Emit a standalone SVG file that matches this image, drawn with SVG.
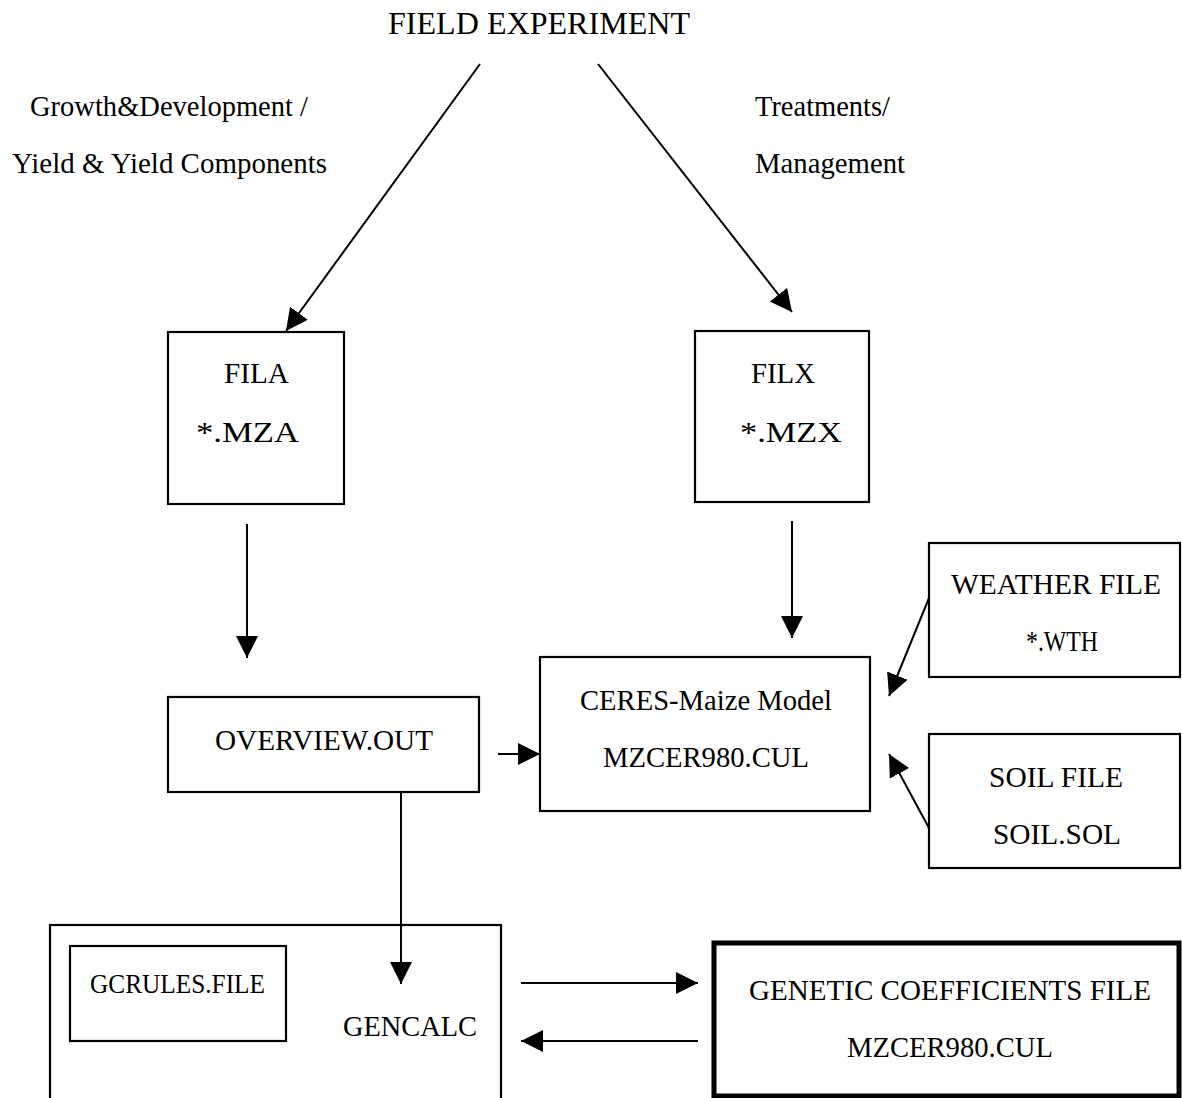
<svg xmlns="http://www.w3.org/2000/svg" width="1182" height="1098" viewBox="0 0 1182 1098">
<style>
.t{font-family:"Liberation Serif","Times New Roman",serif;font-size:30px;fill:#000;text-anchor:middle}
.box{fill:none;stroke:#000;stroke-width:2.2}
.thick{fill:none;stroke:#000;stroke-width:5}
.c{fill:none;stroke:#000;stroke-width:2}
</style>
<defs>
<marker id="ah" markerUnits="userSpaceOnUse" markerWidth="24" markerHeight="24" refX="22" refY="11" orient="auto">
<path d="M0,0 L22,11 L0,22 z" fill="#000"/>
</marker>
</defs>
<rect width="1182" height="1098" fill="#fff"/>
<g id="labels">
<text class="t" x="539" y="34" style="font-size:32px" textLength="302" lengthAdjust="spacingAndGlyphs">FIELD EXPERIMENT</text>
<text class="t" x="169" y="116" textLength="278" lengthAdjust="spacingAndGlyphs">Growth&amp;Development /</text>
<text class="t" x="169.5" y="173" textLength="315" lengthAdjust="spacingAndGlyphs">Yield &amp; Yield Components</text>
<text class="t" x="822.5" y="116" textLength="135" lengthAdjust="spacingAndGlyphs">Treatments/</text>
<text class="t" x="830" y="173" textLength="150" lengthAdjust="spacingAndGlyphs">Management</text>
</g>
<g id="fila">
<rect class="box" x="168" y="332" width="176" height="172"/>
<text class="t" x="256.5" y="383" textLength="65" lengthAdjust="spacingAndGlyphs">FILA</text>
<text class="t" x="247.5" y="442" textLength="103" lengthAdjust="spacingAndGlyphs">*.MZA</text>
</g>
<g id="filx">
<rect class="box" x="695" y="331" width="174" height="171"/>
<text class="t" x="783" y="383" textLength="64" lengthAdjust="spacingAndGlyphs">FILX</text>
<text class="t" x="791" y="442" textLength="102" lengthAdjust="spacingAndGlyphs">*.MZX</text>
</g>
<g id="weather">
<rect class="box" x="929" y="543" width="251" height="134"/>
<text class="t" x="1056" y="594" textLength="210" lengthAdjust="spacingAndGlyphs">WEATHER FILE</text>
<text class="t" x="1062" y="651" textLength="72" lengthAdjust="spacingAndGlyphs">*.WTH</text>
</g>
<g id="soil">
<rect class="box" x="929" y="734" width="251" height="134"/>
<text class="t" x="1056" y="787" textLength="134" lengthAdjust="spacingAndGlyphs">SOIL FILE</text>
<text class="t" x="1057" y="844" textLength="128" lengthAdjust="spacingAndGlyphs">SOIL.SOL</text>
</g>
<g id="ceres">
<rect class="box" x="540" y="657" width="330" height="154"/>
<text class="t" x="706" y="710" textLength="252" lengthAdjust="spacingAndGlyphs">CERES-Maize Model</text>
<text class="t" x="706" y="767" textLength="206" lengthAdjust="spacingAndGlyphs">MZCER980.CUL</text>
</g>
<g id="overview">
<rect class="box" x="168" y="697" width="311" height="95"/>
<text class="t" x="324" y="750" textLength="218" lengthAdjust="spacingAndGlyphs">OVERVIEW.OUT</text>
</g>
<g id="gencalc">
<rect class="box" x="50" y="925" width="451" height="190"/>
<text class="t" x="410" y="1036" textLength="134" lengthAdjust="spacingAndGlyphs">GENCALC</text>
</g>
<g id="gcrules">
<rect class="box" x="70" y="946" width="216" height="95"/>
<text class="t" x="177.5" y="993" style="font-size:28px" textLength="175" lengthAdjust="spacingAndGlyphs">GCRULES.FILE</text>
</g>
<g id="genetic">
<rect class="thick" x="714" y="943" width="465" height="153"/>
<text class="t" x="950" y="1000" textLength="402" lengthAdjust="spacingAndGlyphs">GENETIC COEFFICIENTS FILE</text>
<text class="t" x="950" y="1057" textLength="206" lengthAdjust="spacingAndGlyphs">MZCER980.CUL</text>
</g>
<g id="connectors">
<line class="c" x1="480" y1="64" x2="286" y2="331" marker-end="url(#ah)"/>
<line class="c" x1="598" y1="64" x2="792" y2="312" marker-end="url(#ah)"/>
<line class="c" x1="247" y1="524" x2="247" y2="658" marker-end="url(#ah)"/>
<line class="c" x1="792" y1="521" x2="792" y2="638" marker-end="url(#ah)"/>
<line class="c" x1="929" y1="598" x2="889" y2="696" marker-end="url(#ah)"/>
<line class="c" x1="929" y1="828" x2="889" y2="754" marker-end="url(#ah)"/>
<line class="c" x1="498" y1="754" x2="540" y2="754" marker-end="url(#ah)"/>
<line class="c" x1="401" y1="792" x2="401" y2="984" marker-end="url(#ah)"/>
<line class="c" x1="521" y1="983" x2="698" y2="983" marker-end="url(#ah)"/>
<line class="c" x1="698" y1="1041" x2="521" y2="1041" marker-end="url(#ah)"/>
</g>
</svg>
